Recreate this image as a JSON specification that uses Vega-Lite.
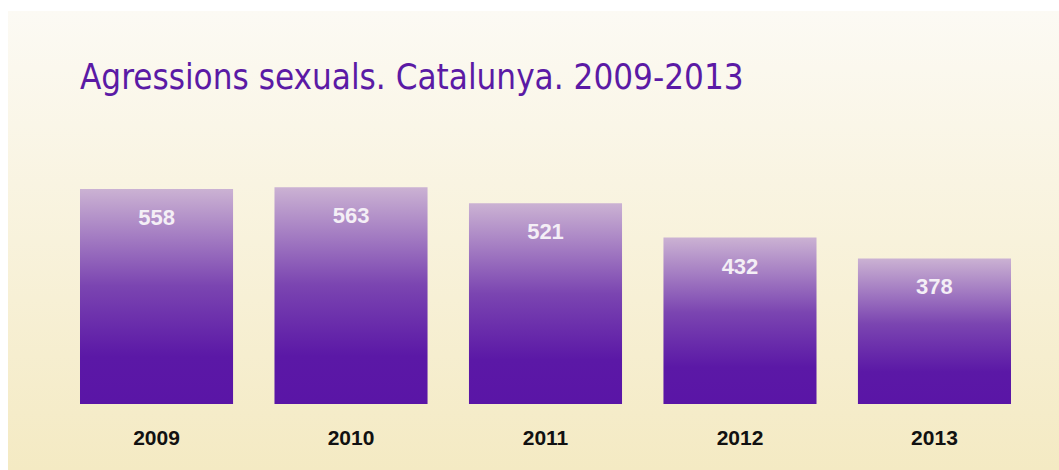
{
  "$schema": "https://vega.github.io/schema/vega-lite/v6.json",
  "width": 1051,
  "height": 459,
  "autosize": {"type": "none"},
  "padding": {"left": 8, "top": 11, "right": 0, "bottom": 0},
  "background": "#ffffff",
  "title": {
    "text": "Agressions sexuals. Catalunya. 2009-2013",
    "anchor": "start",
    "frame": "group",
    "font": "DejaVu Sans Condensed",
    "fontSize": 34.7,
    "fontWeight": "normal",
    "color": "#5b1aa5",
    "baseline": "alphabetic",
    "offset": 0,
    "dx": 72,
    "dy": 113
  },
  "config": {
    "view": {
      "stroke": null,
      "fill": {
        "gradient": "linear",
        "x1": 0, "y1": 0, "x2": 0, "y2": 1,
        "stops": [
          {"offset": 0, "color": "#fcfaf4"},
          {"offset": 1, "color": "#f4eac3"}
        ]
      }
    }
  },
  "data": {
    "values": [
      {"year": "2009", "value": 558},
      {"year": "2010", "value": 563},
      {"year": "2011", "value": 521},
      {"year": "2012", "value": 432},
      {"year": "2013", "value": 378}
    ]
  },
  "encoding": {
    "x": {
      "field": "year",
      "type": "ordinal",
      "scale": {"range": [72, 1003], "paddingInner": 0.213, "paddingOuter": 0},
      "axis": {
        "title": null,
        "orient": "bottom",
        "offset": -26,
        "domain": false,
        "ticks": false,
        "tickSize": 0,
        "grid": false,
        "labelPadding": 0,
        "labelBaseline": "alphabetic",
        "labelAngle": 0,
        "labelFont": "Liberation Sans",
        "labelFontWeight": "bold",
        "labelFontSize": 21,
        "labelColor": "#111111"
      }
    },
    "y": {
      "field": "value",
      "type": "quantitative",
      "scale": {"domain": [-171.4, 1020.3], "nice": false, "zero": false},
      "axis": null
    }
  },
  "layer": [
    {
      "mark": {
        "type": "bar",
        "color": {
          "gradient": "linear",
          "x1": 0, "y1": 0, "x2": 0, "y2": 1,
          "stops": [
            {"offset": 0, "color": "#cbb2d3"},
            {"offset": 0.45, "color": "#7b45b1"},
            {"offset": 0.78, "color": "#5b18a6"},
            {"offset": 1, "color": "#5a15a6"}
          ]
        }
      },
      "encoding": {
        "y2": {"datum": 0}
      }
    },
    {
      "mark": {
        "type": "text",
        "baseline": "alphabetic",
        "align": "center",
        "dy": 36,
        "font": "Liberation Sans",
        "fontWeight": "bold",
        "fontSize": 22,
        "color": "#f4eff6"
      },
      "encoding": {
        "text": {"field": "value", "type": "quantitative"}
      }
    }
  ]
}
